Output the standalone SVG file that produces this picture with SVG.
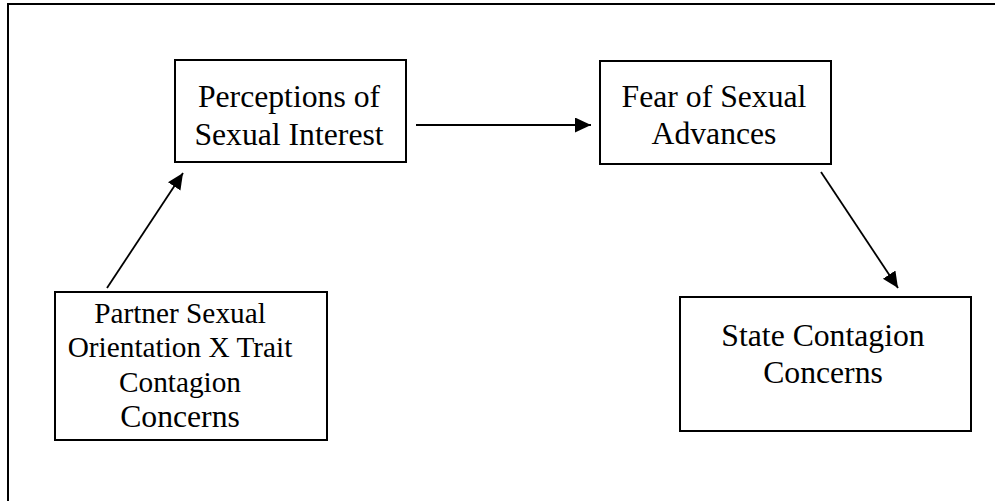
<svg xmlns="http://www.w3.org/2000/svg" width="995" height="501" viewBox="0 0 995 501">
<defs>
<marker id="ah" markerUnits="userSpaceOnUse" markerWidth="17" markerHeight="16" refX="16" refY="7.5" orient="auto">
<path d="M0,0 L16,7.5 L0,15 z" fill="#000"/>
</marker>
<style>
.box{fill:#fff;stroke:#000;stroke-width:2}
.t{font-family:"Liberation Serif","Times New Roman",serif;fill:#000;text-anchor:middle}
.c{stroke:#000;stroke-width:1.8;fill:none;marker-end:url(#ah)}
</style>
</defs>
<rect width="995" height="501" fill="#fff"/>
<path d="M8,501 V4 H995" fill="none" stroke="#000" stroke-width="2"/>
<g id="connectors">
<line class="c" x1="416" y1="125" x2="591" y2="125"/>
<line class="c" x1="107" y1="288" x2="183" y2="173"/>
<line class="c" x1="821" y1="172" x2="898" y2="288"/>
</g>
<g id="perceptions">
<rect class="box" x="175" y="60" width="231" height="102"/>
<text class="t" font-size="31.7" x="289" y="107">Perceptions of</text>
<text class="t" font-size="31.7" x="289" y="145">Sexual Interest</text>
</g>
<g id="fear">
<rect class="box" x="600" y="61" width="231" height="103"/>
<text class="t" font-size="31.7" x="714" y="107">Fear of Sexual</text>
<text class="t" font-size="31.7" x="714" y="144">Advances</text>
</g>
<g id="partner">
<rect class="box" x="55" y="292" width="272" height="148"/>
<text class="t" font-size="29.3" x="180" y="323">Partner Sexual</text>
<text class="t" font-size="29.3" x="180" y="357">Orientation X Trait</text>
<text class="t" font-size="29.3" x="180" y="392">Contagion</text>
<text class="t" font-size="31.7" x="180" y="427">Concerns</text>
</g>
<g id="state">
<rect class="box" x="680" y="297" width="291" height="134"/>
<text class="t" font-size="31.7" x="823" y="346">State Contagion</text>
<text class="t" font-size="31.7" x="823" y="383">Concerns</text>
</g>
</svg>
